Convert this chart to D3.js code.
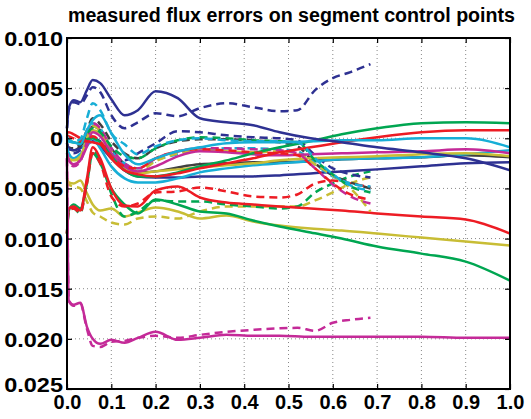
<!DOCTYPE html>
<html>
<head>
<meta charset="utf-8">
<script src="https://d3js.org/d3.v7.min.js"></script>
<style>
  body { margin: 0; background: #fff; }
  text { font-family: "Liberation Sans", Arial, sans-serif; font-weight: bold; }
</style>
</head>
<body>
<svg id="chart" width="531" height="419"></svg>
<script>
// values in units of 1e-3
const yUnit = 1e-3;
const solidX = [0, 0.004, 0.015, 0.03, 0.045, 0.058, 0.075, 0.1, 0.13, 0.16, 0.2, 0.25, 0.3, 0.36, 0.42, 0.48, 0.55, 0.62, 0.7, 0.8, 0.9, 1.0];
const dashX  = [0, 0.004, 0.015, 0.03, 0.045, 0.058, 0.075, 0.1, 0.13, 0.16, 0.2, 0.25, 0.3, 0.36, 0.42, 0.48, 0.52, 0.56, 0.6, 0.64, 0.685];

const xTicks = [0, 0.1, 0.2, 0.3, 0.4, 0.5, 0.6, 0.7, 0.8, 0.9, 1.0];
const xTickLabels = ["0.0", "0.1", "0.2", "0.3", "0.4", "0.5", "0.6", "0.7", "0.8", "0.9", "1.0"];
const yTicks = [0.010, 0.005, 0, -0.005, -0.010, -0.015, -0.020, -0.025];
const yTickLabels = ["0.010", "0.005", "0", "0.005", "0.010", "0.015", "0.020", "0.025"];

// solid lines (full range)
const blueS1    = [1.0, 3.0, 3.8, 3.6, 4.8, 5.8, 5.5, 3.9, 2.3, 2.8, 4.7, 4.0, 2.0, 1.6, 1.3, 0.6, 0.0, -0.4, -0.9, -1.4, -2.0, -3.2];
const blueS2    = [-0.5, -1.0, -1.2, -1.0, -0.6, -0.3, -0.8, -2.0, -3.2, -3.8, -3.9, -3.9, -3.8, -3.8, -3.8, -3.7, -3.5, -3.3, -3.1, -2.8, -2.5, -2.4];
const cyanS1    = [0.0, -0.3, -0.4, -0.6, 0.8, 1.8, 2.3, 0.5, -1.6, -2.6, -2.0, -1.3, -0.9, -0.5, -0.4, -0.4, -0.3, -0.2, -0.2, 0.0, 0.0, -0.9];
const cyanS2    = [-1.0, -1.5, -2.0, -1.6, -0.8, 0.0, -1.0, -2.8, -4.0, -4.4, -4.4, -4.0, -3.4, -3.0, -2.7, -2.5, -2.3, -2.1, -2.0, -1.9, -1.6, -1.2];
const blackS    = [-0.8, -1.0, -1.2, -0.8, 0.2, 1.2, 0.8, -1.0, -2.6, -3.4, -3.3, -2.9, -2.6, -2.5, -2.4, -2.4, -2.3, -2.1, -2.0, -1.9, -1.7, -1.9];
const magentaS1 = [-1.5, -2.2, -2.6, -2.2, -0.8, 0.6, 0.2, -1.5, -2.8, -3.3, -2.8, -1.8, -1.3, -1.4, -1.6, -1.7, -1.6, -1.5, -1.4, -1.3, -1.1, -1.5];
const oliveS1   = [-1.8, -2.0, -2.2, -1.8, -0.2, 0.8, 0.5, -1.5, -3.0, -3.5, -3.3, -3.1, -2.9, -2.7, -2.5, -2.2, -2.0, -1.9, -1.8, -1.6, -1.5, -1.8];
const greenS1   = [-0.2, -0.3, -0.4, -0.5, -0.1, 0.0, -0.4, -1.8, -3.2, -3.8, -3.8, -3.4, -2.8, -2.2, -1.5, -0.9, -0.3, 0.4, 1.0, 1.5, 1.6, 1.5];
const redS1     = [0.5, 0.6, 0.4, 0.0, -0.3, -0.4, -0.6, -2.0, -3.2, -3.6, -3.8, -3.5, -3.0, -2.5, -2.0, -1.4, -0.9, -0.4, 0.1, 0.6, 0.8, 0.8];
const redS2     = [-9.5, -7.0, -6.8, -7.2, -4.0, -0.9, -2.0, -5.0, -6.7, -6.8, -5.2, -4.8, -5.9, -6.4, -6.6, -6.8, -7.0, -7.2, -7.5, -7.8, -8.1, -9.5];
const greenS2   = [-9.5, -7.2, -6.6, -7.0, -4.5, -1.5, -2.5, -5.0, -6.6, -7.5, -6.1, -6.6, -7.3, -7.5, -8.2, -8.8, -9.4, -10.0, -10.8, -11.5, -12.3, -14.2];
const oliveS2   = [-4.0, -4.4, -4.5, -4.2, -5.5, -6.6, -7.2, -7.0, -7.8, -7.4, -6.9, -7.3, -8.0, -7.7, -8.3, -8.7, -9.0, -9.2, -9.5, -9.9, -10.3, -10.7];
const magentaS2 = [-2.0, -16.2, -16.6, -16.4, -18.8, -20.0, -20.5, -20.1, -20.4, -19.9, -19.3, -20.1, -19.9, -19.6, -19.7, -19.7, -19.8, -19.8, -19.8, -19.8, -19.9, -19.9];

// dashed lines (end at 0.685)
const blueD1    = [1.0, 2.8, 3.6, 3.4, 4.3, 5.1, 4.6, 2.3, 1.0, 1.6, 2.5, 2.2, 3.0, 3.5, 3.1, 2.7, 2.8, 4.8, 6.0, 6.6, 7.4];
const blueD2    = [-0.5, -1.2, -1.5, -1.2, -0.5, 0.0, -0.3, -1.5, -2.2, -1.5, -0.5, 0.7, 0.6, 0.3, 0.1, 0.0, -0.2, -1.7, -3.0, -3.6, -3.9];
const cyanD1    = [0.2, -0.2, -0.3, -0.1, 2.0, 3.5, 2.8, 0.5, -0.6, -1.6, -0.8, -0.2, 0.0, -0.2, -0.3, -0.3, -0.4, -2.0, -3.6, -4.7, -5.2];
const cyanD2    = [-1.0, -1.6, -2.0, -1.5, 0.0, 1.5, 1.0, -1.2, -2.5, -3.0, -2.2, -1.6, -1.2, -1.0, -1.0, -1.1, -1.3, -2.6, -3.8, -4.5, -4.8];
const blackD    = [-0.6, -0.9, -1.0, -0.6, 0.8, 2.0, 1.4, -0.3, -1.5, -2.0, -1.0, -0.3, -0.1, -0.1, -0.2, -0.4, -0.8, -2.5, -3.7, -4.4, -5.0];
const magentaD1 = [-1.5, -2.2, -2.8, -2.3, -0.3, 1.5, 1.0, -1.0, -2.5, -3.0, -2.0, -1.3, -1.0, -1.0, -1.1, -1.2, -1.5, -3.0, -4.6, -5.8, -6.5];
const oliveD1   = [-1.8, -2.2, -2.4, -2.0, 0.0, 1.2, 0.8, -1.2, -3.0, -3.3, -2.3, -1.5, -1.2, -1.3, -1.4, -1.3, -1.5, -2.6, -3.7, -5.0, -7.3];
const greenD1   = [0.0, -0.2, -0.4, -0.3, 0.5, 1.0, 0.6, -0.8, -1.8, -2.0, -1.0, -0.2, 0.1, 0.0, -0.2, -0.3, -0.4, -2.2, -3.6, -4.8, -5.4];
const redD1     = [0.3, 0.2, 0.0, -0.3, -0.3, 0.2, -0.3, -1.8, -2.8, -3.0, -2.0, -1.3, -1.1, -1.2, -1.4, -1.5, -1.7, -3.0, -4.5, -5.6, -6.1];
const redD2     = [-9.5, -7.2, -7.0, -7.4, -4.5, -1.5, -2.5, -5.8, -6.8, -6.5, -5.4, -5.3, -4.9, -5.3, -5.8, -5.9, -5.6, -4.5, -4.2, -4.5, -4.9];
const greenD2   = [-9.5, -7.4, -7.0, -7.5, -4.2, -1.2, -2.2, -5.5, -7.8, -7.3, -6.2, -6.3, -6.3, -6.6, -6.8, -7.0, -6.8, -5.4, -4.5, -3.8, -3.3];
const oliveD2   = [-4.2, -4.6, -4.8, -5.0, -6.3, -7.4, -7.8, -8.4, -8.6, -8.0, -7.8, -8.0, -7.3, -6.8, -6.8, -6.8, -6.8, -6.2, -5.4, -4.5, -3.9];
const magentaD2 = [-2.0, -16.2, -16.7, -16.5, -19.0, -20.7, -20.8, -20.3, -20.2, -19.9, -19.7, -19.9, -19.6, -19.3, -19.1, -18.95, -18.9, -19.2, -18.4, -18.1, -17.9];

const blue = "#2e3192", green = "#00a651", red = "#ed1c24", cyan = "#17aed6",
      magenta = "#c42a98", olive = "#c8bd35", black = "#404040";

const lines = [
  { x: solidX, y: oliveS2, c: olive }, { x: dashX, y: oliveD2, c: olive, d: true },
  { x: solidX, y: greenS2, c: green }, { x: dashX, y: greenD2, c: green, d: true },
  { x: solidX, y: redS2, c: red }, { x: dashX, y: redD2, c: red, d: true },
  { x: solidX, y: magentaS2, c: magenta }, { x: dashX, y: magentaD2, c: magenta, d: true },
  { x: solidX, y: blackS, c: black }, { x: dashX, y: blackD, c: black, d: true },
  { x: solidX, y: blueS2, c: blue }, { x: dashX, y: blueD2, c: blue, d: true },
  { x: solidX, y: cyanS2, c: cyan }, { x: dashX, y: cyanD2, c: cyan, d: true },
  { x: solidX, y: oliveS1, c: olive }, { x: dashX, y: oliveD1, c: olive, d: true },
  { x: solidX, y: magentaS1, c: magenta }, { x: dashX, y: magentaD1, c: magenta, d: true },
  { x: solidX, y: greenS1, c: green }, { x: dashX, y: greenD1, c: green, d: true },
  { x: solidX, y: redS1, c: red }, { x: dashX, y: redD1, c: red, d: true },
  { x: solidX, y: cyanS1, c: cyan }, { x: dashX, y: cyanD1, c: cyan, d: true },
  { x: solidX, y: blueS1, c: blue }, { x: dashX, y: blueD1, c: blue, d: true }
];

const svg = d3.select("#chart");
const margin = { top: 38, right: 21, bottom: 30, left: 67 };
const width = +svg.attr("width") - margin.left - margin.right;
const height = +svg.attr("height") - margin.top - margin.bottom;

const chart = svg.append("g")
    .attr("transform", `translate(${margin.left},${margin.top})`);

const x = d3.scaleLinear().domain([0, 1]).range([0, width]);
const y = d3.scaleLinear().domain([-0.025, 0.010]).range([height, 0]);

// dotted grid
chart.append("g").selectAll("line")
    .data(xTicks.slice(1, -1))
    .join("line")
    .attr("x1", d => x(d)).attr("x2", d => x(d))
    .attr("y1", 0).attr("y2", height)
    .attr("stroke", "#888").attr("stroke-width", 1).attr("stroke-dasharray", "1,3");
chart.append("g").selectAll("line")
    .data(yTicks.slice(1, -1))
    .join("line")
    .attr("x1", 0).attr("x2", width)
    .attr("y1", d => y(d)).attr("y2", d => y(d))
    .attr("stroke", "#888").attr("stroke-width", 1).attr("stroke-dasharray", "1,3");

// data lines
const line = d3.line()
    .x(d => x(d[0]))
    .y(d => y(d[1] * yUnit))
    .curve(d3.curveMonotoneX);

chart.append("g").selectAll("path")
    .data(lines)
    .join("path")
    .attr("d", s => line(s.x.map((v, i) => [v, s.y[i]])))
    .attr("fill", "none")
    .attr("stroke", s => s.c)
    .attr("stroke-width", 2.5)
    .attr("stroke-dasharray", s => s.d ? "8,5" : null)
    .attr("stroke-linejoin", "round");

// axes (MATLAB-style inward ticks, box)
const xAxis = d3.axisBottom(x).tickValues(xTicks).tickSizeInner(-5).tickSizeOuter(0)
    .tickFormat((d, i) => xTickLabels[i]);
const yAxis = d3.axisLeft(y).tickValues(yTicks).tickSizeInner(-5).tickSizeOuter(0)
    .tickFormat((d, i) => yTickLabels[i]);

const gx = chart.append("g")
    .attr("transform", `translate(0,${height})`)
    .call(xAxis);
gx.selectAll("text").attr("y", 20).attr("dy", 0).attr("font-size", 20);

// labels look horizontally stretched in the original figure
const sx = 1.12;
const gy = chart.append("g").call(yAxis);
gy.selectAll("text")
    .attr("x", -4 / sx)
    .attr("dy", (d, i) => i === yTicks.length - 1 ? "0.1em" : "0.36em")
    .attr("font-size", 21)
    .attr("transform", `scale(${sx},1)`);

chart.append("g").attr("transform", `translate(${width},0)`)
    .call(d3.axisRight(y).tickValues(yTicks).tickSizeInner(-5).tickSizeOuter(0).tickFormat(""));
chart.append("g")
    .call(d3.axisTop(x).tickValues(xTicks).tickSizeInner(-5).tickSizeOuter(0).tickFormat(""));

chart.selectAll(".domain").remove();
chart.selectAll(".tick line").attr("stroke", "#000").attr("stroke-width", 1.2);
chart.selectAll(".tick text").attr("fill", "#000").attr("font-family", "Liberation Sans, Arial, sans-serif").attr("font-weight", "bold");

chart.append("rect")
    .attr("width", width).attr("height", height)
    .attr("fill", "none").attr("stroke", "#000").attr("stroke-width", 2);

// title
svg.append("text")
    .attr("x", margin.left + 1)
    .attr("y", 22)
    .attr("font-size", 20)
    .attr("textLength", 447)
    .attr("lengthAdjust", "spacingAndGlyphs")
    .text("measured flux errors on segment control points");
</script>
</body>
</html>
